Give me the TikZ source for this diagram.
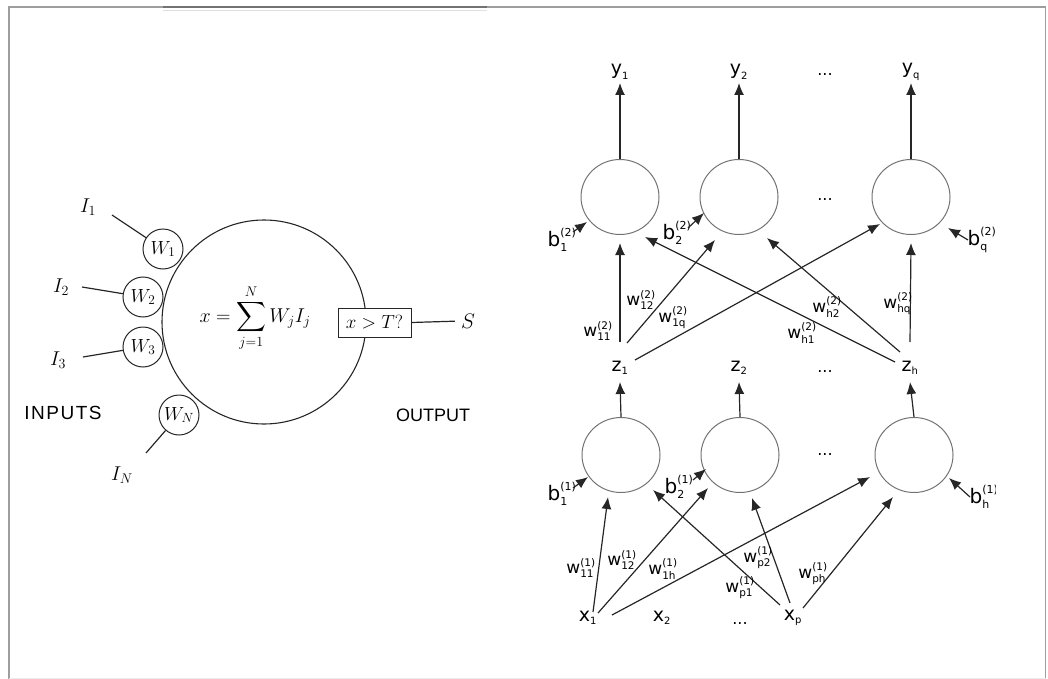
\RequirePackage{fix-cm}
\documentclass[tikz,border=0pt]{standalone}
\usepackage{exscale}
\usepackage{fontspec}
\setmainfont{Liberation Serif}
\newfontfamily\dvs{DejaVu Sans}
\newfontfamily\lsans{Liberation Sans}
\usetikzlibrary{arrows.meta,calc,shapes.geometric}
\newcommand\fs[1]{\fontsize{#1}{#1}\selectfont}
\newcommand\wlab[3]{{\fs{17}$\mbox{\dvs\fs{17}#1}^{\mbox{\dvs\fs{10.5}#3}}_{\mbox{\dvs\fs{10.5}#2}}$}}
\newcommand\slab[2]{{\fs{18}$\mbox{\dvs\fs{19}#1}_{\mbox{\dvs\fs{10}#2}}$}}
\newcommand\blab[3]{{\fs{19}$\mbox{\dvs\fs{20}#1}^{\mbox{\dvs\fs{11}#3}}_{\mbox{\dvs\fs{11}#2}}$}}
\tikzset{
  ln/.style={line width=1.2pt, draw=black!85},
  arr/.style={ln, -{Latex[length=12pt,width=10pt]}},
  neuron/.style={ellipse, draw=black!55, line width=1pt, minimum width=78pt, minimum height=75pt, inner sep=0pt},
  wcirc/.style={circle, draw=black!85, line width=1pt, minimum size=40pt, inner sep=0pt, fill=white},
  txt/.style={inner sep=0pt},
  dots/.style={inner sep=0pt, font=\dvs\fs{16}},
  frame/.style={draw=black!38, line width=1.5pt},
}
\begin{document}
\begin{tikzpicture}[x=1pt,y=-1pt]
\useasboundingbox (0,0) rectangle (1048,679);
% frame
\draw[frame] (9,679) -- (9,7) -- (1045.5,7) -- (1045.5,679);
\draw[draw=black!55, line width=1.5pt] (163,7) -- (487,7);
\draw[draw=black!12, line width=1pt] (163,11) -- (487,11);
\draw[draw=black!8, line width=1pt] (9,678) -- (1045.5,678);

% ---------- left: single neuron ----------
\node[circle, draw=black!85, line width=1.1pt, minimum size=204pt, inner sep=0pt] (soma) at (264,322) {};
\node[wcirc] (W1) at (163,249) {\fs{19}$W_1$};
\node[wcirc] (W2) at (143,297) {\fs{19}$W_2$};
\node[wcirc] (W3) at (143,347) {\fs{19}$W_3$};
\node[wcirc] (WN) at (179,415) {\fs{19}$W_N$};
\node[txt] (I1) at (88,207) {\fs{20}$I_1$};
\node[txt] (I2) at (61,287) {\fs{20}$I_2$};
\node[txt] (I3) at (58,360) {\fs{20}$I_3$};
\node[txt] (IN) at (122,475) {\fs{20}$I_N$};
\coordinate (i1s) at ($(I1)+(24,8)$);
\coordinate (i2s) at ($(I2)+(21,0)$);
\coordinate (i3s) at ($(I3)+(25,-3)$);
\coordinate (ins) at ($(IN)+(24,-22)$);
\draw[ln] (i1s) -- (W1);
\draw[ln] (i2s) -- (W2);
\draw[ln] (i3s) -- (W3);
\draw[ln] (ins) -- (WN);
\node[txt, anchor=base] (sum) at (255,322) {\fs{20}$\displaystyle x=\sum_{j=1}^{N}W_jI_j$};
\node[draw=black!85, line width=1pt, fill=white, minimum width=73pt, minimum height=29pt, inner sep=0pt] (thr) at (374.5,322.5) {\fs{19}$x>T?$};
\node[txt] (S) at (468,321) {\fs{21}$S$};
\draw[ln, shorten >=6pt] (thr.east) -- (S.west);
\node[txt] (inputs) at (63,413) {\lsans\addfontfeature{LetterSpace=8}\fs{19}INPUTS};
\node[txt] (output) at (433,415) {\lsans\fs{18}OUTPUT};

% ---------- right: two-layer network ----------
% output layer
\node[neuron] (o1) at (620,197) {};
\node[neuron] (o2) at (739,197) {};
\node[neuron] (o3) at (911,197) {};
\node[dots] (od) at (825,200) {...};
\node[txt] (y1) at (620,72) {\slab{y}{1}};
\node[txt] (y2) at (739,72) {\slab{y}{2}};
\node[txt] (yq) at (911,72) {\slab{y}{q}};
\node[dots] (yd) at (825,75) {...};
\draw[arr] (o1.north) -- ($(y1)+(0,11)$);
\draw[arr] (o2.north) -- ($(y2)+(0,11)$);
\draw[arr] (o3.north) -- ($(yq)+(0,11)$);

% hidden layer
\node[neuron] (h1) at (621,455) {};
\node[neuron] (h2) at (740,455) {};
\node[neuron] (h3) at (914,455) {};
\node[dots] (hd) at (825,455) {...};
\node[txt] (z1) at (620,368) {\slab{z}{1}};
\node[txt] (z2) at (739,368) {\slab{z}{2}};
\node[txt] (zh) at (910,368) {\slab{z}{h}};
\node[dots] (zd) at (825,372) {...};
\draw[arr] (h1.north) -- ($(z1)+(0,14)$);
\draw[arr] (h2.north) -- ($(z2)+(0,14)$);
\draw[arr] (h3.north) -- ($(zh)+(0,14)$);

% inputs
\node[txt] (x1) at (588,618) {\slab{x}{1}};
\node[txt] (x2) at (662,618) {\slab{x}{2}};
\node[dots] (xd) at (740,623) {...};
\node[txt] (xp) at (793,618) {\slab{x}{p}};

% second layer weights
\draw[arr] ($(z1)+(0,-26)$) -- ($(o1)+(0,46)$);
\draw[arr] ($(z1)+(7,-25)$) -- ($(o2)+(-24,43)$);
\draw[arr] ($(z1)+(15,-8)$) -- ($(o3)+(-31,27)$);
\draw[arr] ($(zh)+(-15,-6)$) -- ($(o1)+(25,40)$);
\draw[arr] ($(zh)+(-10,-16)$) -- ($(o2)+(28,41)$);
\draw[arr] ($(zh)+(0,-26)$) -- ($(o3)+(0,46)$);

% first layer weights
\draw[arr] ($(x1)+(5,-6)$) -- ($(h1)+(-13,42)$);
\draw[arr] ($(x1)+(10,-5)$) -- ($(h2)+(-32,33)$);
\draw[arr] ($(x1)+(24,-3)$) -- ($(h3)+(-44,22)$);
\draw[arr] ($(xp)+(-13,-13)$) -- ($(h1)+(32,35)$);
\draw[arr] ($(xp)+(-3,-15)$) -- ($(h2)+(12,43)$);
\draw[arr] ($(xp)+(10,-10)$) -- ($(h3)+(-21,42)$);

% biases
\node[txt] (b12) at (562,240) {\blab{b}{1}{(2)}};
\node[txt] (b22) at (677,233) {\blab{b}{2}{(2)}};
\node[txt] (bq2) at (982,240) {\blab{b}{q}{(2)}};
\node[txt] (b11) at (562,494) {\blab{b}{1}{(1)}};
\node[txt] (b21) at (679,487) {\blab{b}{2}{(1)}};
\begin{scope}
\clip (0,0) rectangle (995,679);
\node[txt] (bh1) at (984,497) {\blab{b}{h}{(1)}};
\end{scope}
\draw[arr] ($(b12)+(11,-8)$) -- ($(o1)+(-33,25)$);
\draw[arr] ($(b22)+(11,-5)$) -- ($(o2)+(-35,16)$);
\draw[arr] ($(bq2)+(-14,0)$) -- ($(o3)+(37,31)$);
\draw[arr] ($(b11)+(11,-6)$) -- ($(h1)+(-33,22)$);
\draw[arr] ($(b21)+(14,-7)$) -- ($(h2)+(-34,14)$);
\draw[arr] ($(bh1)+(-14,0)$) -- ($(h3)+(35,23)$);

% weight labels
\node[txt] (w112) at (598,331) {\wlab{w}{11}{(2)}};
\node[txt] (w122) at (641,300) {\wlab{w}{12}{(2)}};
\node[txt] (w1q2) at (673,318) {\wlab{w}{1q}{(2)}};
\node[txt] (wh12) at (802,333) {\wlab{w}{h1}{(2)}};
\node[txt] (wh22) at (827,307) {\wlab{w}{h2}{(2)}};
\node[txt] (whq2) at (898,304) {\wlab{w}{hq}{(2)}};
\node[txt] (w111) at (581,568) {\wlab{w}{11}{(1)}};
\node[txt] (w121) at (622,560) {\wlab{w}{12}{(1)}};
\node[txt] (w1h1) at (663,569) {\wlab{w}{1h}{(1)}};
\node[txt] (wp11) at (740,588) {\wlab{w}{p1}{(1)}};
\node[txt] (wp21) at (758,558) {\wlab{w}{p2}{(1)}};
\node[txt] (wph1) at (813,574) {\wlab{w}{ph}{(1)}};
\end{tikzpicture}
\end{document}
